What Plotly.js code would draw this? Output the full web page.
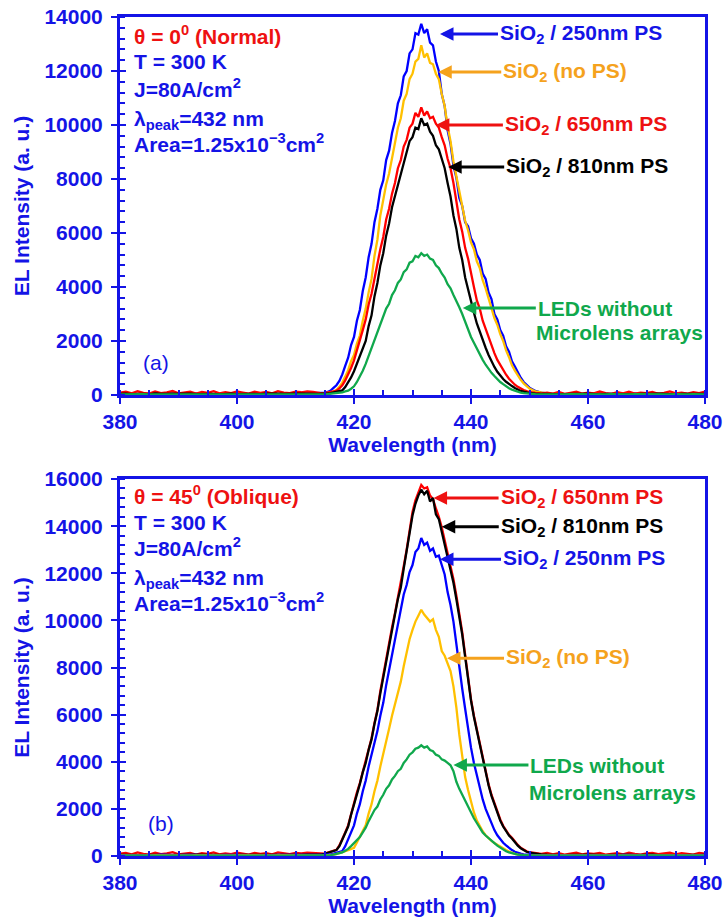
<!DOCTYPE html>
<html>
<head>
<meta charset="utf-8">
<script src="https://cdn.plot.ly/plotly-3.0.1.min.js"></script>
<style>html,body{margin:0;padding:0;background:#fff;}#chart{width:727px;height:917px;}</style>
</head>
<body>
<div id="chart"></div>
<script>
// ---- wavelength grid (nm) ----
const wlBase = [380,381,382,383,384,385,386,387,388,389,390,391,392,393,394,395,396,397,398,399,400,401,402,403,404,405,406,407,408,409,410,411,412,413,414];
const wlPeak = [414.5,415,415.5,416,416.5,417,417.5,418,418.5,419,
419.5,420,420.5,421,421.5,422,422.5,423,423.5,424,
424.5,425,425.5,426,426.5,427,427.5,428,428.5,429,
429.5,430,430.5,431,431.5,432,432.5,433,433.5,434,
434.5,435,435.5,436,436.5,437,437.5,438,438.5,439,
439.5,440,440.5,441,441.5,442,442.5,443,443.5,444,
444.5,445,445.5,446,446.5,447,447.5,448,448.5,449,
449.5,450];
const wlTail = [451,452,453,454,455,456,457,458,459,460,461,462,463,464,465,466,467,468,469,470,471,472,473,474,475,476,477,478,479,480];

// ---- (a) normal, theta = 0 ----
const a250 = [40,60,30,50,70,45,35,55,40,65,50,30,45,60,40,35,55,45,30,50,40,60,35,45,55,40,50,30,45,60,40,50,55,45,60,
70,90,110,160,260,360,520,760,1080,1380,
1850,2150,2750,3150,3850,4350,5100,5600,6400,6900,
7600,7950,8700,9050,9700,10150,10800,11100,11800,12000,
12650,12800,13400,13350,13750,13400,13550,13050,12950,12350,
12000,11150,10700,9800,9300,8500,8050,7300,7000,6400,
6250,5800,5600,5200,5000,4500,4300,3800,3550,3000,
2800,2400,2200,1800,1600,1250,1050,820,640,480,
380,270,
150,90,60,40,55,30,45,60,35,50,40,65,30,45,55,40,35,60,45,30,50,40,55,35,45,60,40,30,50,45];
const aNoPS = [30,40,25,35,45,30,40,35,25,45,30,40,35,30,45,25,40,35,30,45,40,30,35,45,30,40,35,25,40,45,35,30,40,45,40,
45,55,70,95,130,180,300,460,680,920,
1250,1480,1900,2200,2750,3200,3800,4300,5150,5750,
6650,7250,7800,8200,8800,9250,9900,10250,10900,11150,
11700,11900,12350,12450,12950,12500,12650,12300,12250,11900,
11700,11150,10700,9950,9400,8650,8100,7450,7000,6450,
6100,5650,5400,4950,4700,4250,3950,3550,3250,2850,
2600,2250,2000,1650,1400,1100,900,720,560,430,
330,240,
130,80,50,40,30,45,35,25,40,30,50,35,25,40,30,45,35,30,40,25,35,45,30,40,35,25,40,30,35,45];
const a650 = [90,120,60,140,80,50,130,70,100,150,60,90,120,50,110,80,140,60,100,70,130,90,50,120,80,110,60,140,90,70,120,100,130,110,80,
55,70,80,110,130,160,240,360,540,760,
1000,1280,1650,1950,2400,2800,3350,3750,4350,4800,
5400,5850,6500,6900,7450,7850,8400,8700,9200,9450,
9900,10050,10450,10300,10650,10350,10500,10250,10300,10050,
9900,9550,9250,8750,8400,7850,7150,6500,6050,5450,
5050,4450,4000,3500,3200,2750,2450,2100,1800,1550,
1300,1100,920,750,600,480,380,300,230,180,
140,110,
80,60,90,50,110,40,80,120,50,90,60,130,70,40,100,60,120,50,90,70,110,40,80,130,60,90,50,100,70,120];
const a810 = [35,50,30,45,40,25,55,35,40,30,45,35,50,30,40,45,35,25,40,50,30,45,35,40,30,50,35,45,40,30,45,50,40,35,40,
45,40,55,70,90,110,130,170,290,450,
650,880,1150,1400,1700,2000,2550,2950,3650,4150,
4800,5250,5900,6350,6950,7350,7850,8150,8650,8950,
9400,9550,9900,9850,10250,10000,10050,9750,9600,9250,
9100,8750,8400,7850,7350,6650,6150,5450,5000,4350,
3900,3400,3050,2650,2350,1980,1750,1480,1250,1040,
860,700,590,490,400,330,260,200,150,120,
90,70,
50,40,30,45,35,25,40,30,35,45,30,25,40,35,30,45,35,25,40,30,35,45,30,40,25,35,40,30,45,35];
const aNoML = [25,30,20,25,30,20,25,30,25,20,30,25,20,25,30,20,25,30,25,20,25,30,20,25,30,25,20,30,25,20,25,30,20,25,25,
25,20,30,40,50,60,80,100,130,160,
230,320,480,680,900,1150,1450,1680,2050,2300,
2650,2880,3200,3380,3700,3880,4150,4280,4550,4650,
4900,4950,5150,5100,5250,5150,5200,5050,5000,4800,
4700,4500,4350,4100,3950,3700,3500,3250,3000,2700,
2450,2150,1930,1700,1500,1300,1120,950,820,700,
580,480,400,320,250,200,160,120,90,70,
55,40,
30,25,20,30,25,20,30,25,20,25,30,20,25,30,20,25,20,30,25,20,30,25,20,25,30,20,25,30,20,25];

// ---- (b) oblique, theta = 45 ----
const b650 = [100,130,70,150,90,60,140,80,110,160,70,100,130,60,120,90,150,70,110,80,140,100,60,130,90,120,70,150,100,80,130,110,140,120,90,
80,100,140,180,220,260,450,700,1000,1300,
1800,2200,2700,3100,3600,4000,4550,5000,5650,6200,
7000,7700,8400,9000,9700,10300,10950,11500,12300,13000,
13850,14600,15100,15450,15750,15600,15650,15300,15150,14750,
14400,13950,13400,12850,12300,11750,11050,10350,9500,8550,
7600,6650,5950,5350,4700,4150,3550,3050,2600,2250,
1850,1550,1280,1080,900,770,600,470,350,270,
200,160,
110,90,130,70,120,60,100,140,70,110,90,130,60,100,120,70,140,90,60,110,130,80,100,140,70,120,90,60,130,100];
const b810 = [50,40,55,45,35,50,40,55,45,40,50,35,45,55,40,50,45,35,55,40,45,50,35,45,55,40,50,45,40,55,50,45,60,55,50,
70,90,130,170,210,250,420,680,950,1250,
1750,2150,2650,3050,3550,3950,4500,4950,5600,6150,
6900,7600,8300,8900,9650,10250,10900,11400,12200,12900,
13700,14450,14950,15300,15550,15350,15500,15050,15200,14500,
14300,13750,13300,12700,12200,11600,10900,10200,9400,8450,
7500,6600,5900,5300,4650,4100,3500,3000,2550,2200,
1800,1500,1250,1050,870,740,570,440,330,250,
180,140,
90,70,55,45,60,40,50,35,45,55,40,50,35,45,55,40,50,35,45,40,55,35,45,50,40,35,50,45,40,50];
const b250 = [40,35,45,30,50,40,35,60,45,30,40,50,35,45,40,30,50,35,45,40,35,50,40,30,45,40,35,50,45,40,35,45,40,50,45,
45,50,60,80,100,130,160,210,420,700,
1000,1300,1800,2200,2750,3200,3800,4300,4850,5300,
5950,6500,7250,7900,8600,9200,9950,10550,11100,11500,
12050,12350,12900,13050,13500,13200,13300,12950,13050,12700,
12750,12350,11950,11200,10650,9950,8950,8050,7100,6250,
5350,4600,3950,3400,2850,2400,2000,1700,1380,1100,
880,700,560,450,340,250,180,130,100,70,
55,45,
40,35,45,30,40,35,45,30,40,35,30,45,40,35,30,45,40,35,30,40,45,35,30,40,35,45,30,40,35,45];
const bNoPS = [20,15,25,20,15,20,25,20,15,25,20,15,20,25,20,15,25,20,15,20,25,20,15,20,25,15,20,25,20,15,20,25,20,20,20,
20,25,30,40,60,80,110,150,200,250,
300,350,580,800,1050,1300,1800,2200,2750,3200,
3800,4300,4900,5400,5950,6400,6950,7400,8050,8600,
9200,9600,9950,10200,10450,10250,10100,9950,10050,9600,
9300,8700,8500,8200,7850,7200,6300,5150,4200,3350,
2800,2300,1850,1500,1250,1050,880,750,640,550,
470,400,320,250,190,130,90,60,45,35,
30,25,
20,25,15,20,25,20,15,25,20,15,20,25,15,20,25,20,15,20,25,15,20,25,20,15,20,25,20,15,25,20];
const bNoML = [15,20,25,15,20,25,20,15,20,25,15,20,25,20,15,20,25,15,20,25,20,15,20,25,15,20,25,20,15,20,25,20,15,20,20,
20,20,30,40,60,80,110,150,220,300,
420,550,680,800,1000,1200,1480,1700,1950,2100,
2400,2600,2850,3000,3250,3400,3600,3700,3950,4100,
4300,4400,4550,4600,4700,4600,4650,4500,4450,4300,
4250,4100,4050,3950,3850,3600,3150,2850,2600,2300,
2050,1800,1600,1400,1200,1000,870,750,640,550,
440,350,270,200,150,110,80,60,45,35,
30,25,
20,15,20,25,15,20,25,20,15,20,25,15,20,25,20,15,20,25,15,20,20,25,15,20,25,20,15,20,25,20];

// ---- axis ranges ----
const xRange = [380, 480];
const yRangeA = [0, 14000];
const yRangeB = [0, 16000];

const wl = wlBase.concat(wlPeak, wlTail);

const AX = '#1414E6';
const C = {blue:'#0000FF', orange:'#FFC000', red:'#FF0000', black:'#000000', green:'#10A84C'};
const T = {blue:'#1414E6', orange:'#F5A21D', red:'#EE1111', black:'#000000', green:'#10A84C'};
const FONT = 'Liberation Sans, Arial, Helvetica, sans-serif';

function tr(y, color, xa, ya) {
  return {x: wl, y: y, type: 'scatter', mode: 'lines', xaxis: xa, yaxis: ya,
    line: {color: color, width: 2.3}, hoverinfo: 'skip', showlegend: false};
}
const traces = [
  tr(a250, C.blue, 'x', 'y'), tr(aNoPS, C.orange, 'x', 'y'), tr(a650, C.red, 'x', 'y'),
  tr(a810, C.black, 'x', 'y'), tr(aNoML, C.green, 'x', 'y'),
  tr(b650, C.red, 'x2', 'y2'), tr(b810, C.black, 'x2', 'y2'), tr(b250, C.blue, 'x2', 'y2'),
  tr(bNoPS, C.orange, 'x2', 'y2'), tr(bNoML, C.green, 'x2', 'y2'),
  {x: [null], y: [null], xaxis: 'x3', yaxis: 'y3', type: 'scatter', mode: 'lines', showlegend: false, hoverinfo: 'skip'},
  {x: [null], y: [null], xaxis: 'x4', yaxis: 'y4', type: 'scatter', mode: 'lines', showlegend: false, hoverinfo: 'skip'}
];

const tickFont = {family: FONT, size: 21, color: AX, weight: 'bold'};
function xAxis(anchor) {
  return {anchor: anchor, range: xRange, tickmode: 'linear', tick0: 380, dtick: 20, tickformat: 'd',
    ticks: 'outside', ticklen: 6, tickwidth: 2, tickcolor: AX,
    minor: {ticks: 'inside', tickmode: 'linear', dtick: 5, tick0: 380, ticklen: 5, tickwidth: 2, tickcolor: AX, showgrid: false},
    showline: true, linecolor: AX, linewidth: 3, mirror: true,
    showgrid: false, zeroline: false, tickfont: tickFont,
    title: {text: '<b>Wavelength (nm)</b>', font: {family: FONT, size: 21, color: AX}, standoff: 4}};
}
function yAxis(anchor, domain, range) {
  return {anchor: anchor, domain: domain, range: range, tickmode: 'linear', tick0: 0, dtick: 2000, tickformat: 'd',
    ticks: 'outside', ticklen: 6, tickwidth: 2, tickcolor: AX, ticklabelstandoff: 4,
    minor: {ticks: 'inside', tickmode: 'linear', dtick: 400, tick0: 0, ticklen: 5, tickwidth: 2, tickcolor: AX, showgrid: false},
    showline: true, linecolor: AX, linewidth: 3, mirror: true,
    showgrid: false, zeroline: false, tickfont: tickFont,
    title: {text: '<b>EL Intensity (a. u.)</b>', font: {family: FONT, size: 21, color: AX}, standoff: 10}};
}
function overlayX(over, anchor) {
  return {overlaying: over, anchor: anchor, range: xRange, tickmode: 'linear', tick0: 380, dtick: 20, ticks: 'inside', ticklen: 6,
    tickwidth: 2, tickcolor: AX, showticklabels: false, showline: false, showgrid: false, zeroline: false};
}
function overlayY(over, anchor, range) {
  return {overlaying: over, anchor: anchor, side: 'left', range: range, tickmode: 'linear', tick0: 0, dtick: 2000, ticks: 'inside', ticklen: 6,
    tickwidth: 2, tickcolor: AX, showticklabels: false, showline: false, showgrid: false, zeroline: false};
}

const ann = [];
function lbl(xr, yr, x, y, text, color, opts) {
  ann.push(Object.assign({xref: xr, yref: yr, x: x, y: y, text: text, showarrow: false,
    xanchor: 'left', yanchor: 'middle', align: 'left',
    font: {family: FONT, size: 21, color: color}}, opts || {}));
}
function arr(xr, yr, x, y, ax, text, color) {
  ann.push({xref: xr, yref: yr, x: x, y: y, ax: ax, ay: 0, text: text, showarrow: true,
    arrowhead: 2, arrowsize: 0.9, arrowwidth: 3, arrowcolor: color, standoff: 0,
    xanchor: 'left', yanchor: 'middle', align: 'left',
    font: {family: FONT, size: 21, color: color}});
}
// (a)
lbl('x domain', 'y domain', 0.02, 0.952, '<b>θ = 0<sup>0</sup> (Normal)</b>', T.red);
lbl('x domain', 'y domain', 0.02, 0.881, '<b>T = 300 K</b>', T.blue);
lbl('x domain', 'y domain', 0.02, 0.812, '<b>J=80A/cm<sup>2</sup></b>', T.blue);
lbl('x domain', 'y domain', 0.02, 0.728, '<b>λ<sub>peak</sub>=432 nm</b>', T.blue);
lbl('x domain', 'y domain', 0.02, 0.667, '<b>Area=1.25x10<sup>−3</sup>cm<sup>2</sup></b>', T.blue);
lbl('x domain', 'y domain', 0.0615, 0.085, '(a)', T.blue, {xanchor: 'center'});
arr('x', 'y', 434.7, 13370, 58, '<b>SiO<sub>2</sub> / 250nm PS</b>', T.blue);
arr('x', 'y', 434.4, 11960, 63, '<b>SiO<sub>2</sub> (no PS)</b>', T.orange);
arr('x', 'y', 434.0, 10000, 67, '<b>SiO<sub>2</sub> / 650nm PS</b>', T.red);
arr('x', 'y', 436.1, 8440, 56, '<b>SiO<sub>2</sub> / 810nm PS</b>', T.black);
arr('x', 'y', 438.6, 3220, 73, '<b>LEDs without</b>', T.green);
lbl('x', 'y', 450.8, 2330, '<b>Microlens arrays</b>', T.green);
// (b)
lbl('x2 domain', 'y2 domain', 0.02, 0.958, '<b>θ = 45<sup>0</sup> (Oblique)</b>', T.red);
lbl('x2 domain', 'y2 domain', 0.02, 0.886, '<b>T = 300 K</b>', T.blue);
lbl('x2 domain', 'y2 domain', 0.02, 0.820, '<b>J=80A/cm<sup>2</sup></b>', T.blue);
lbl('x2 domain', 'y2 domain', 0.02, 0.736, '<b>λ<sub>peak</sub>=432 nm</b>', T.blue);
lbl('x2 domain', 'y2 domain', 0.02, 0.674, '<b>Area=1.25x10<sup>−3</sup>cm<sup>2</sup></b>', T.blue);
lbl('x2 domain', 'y2 domain', 0.07, 0.0875, '(b)', T.blue, {xanchor: 'center'});
arr('x2', 'y2', 433.6, 15190, 65, '<b>SiO<sub>2</sub> / 650nm PS</b>', T.red);
arr('x2', 'y2', 435.0, 13980, 57, '<b>SiO<sub>2</sub> / 810nm PS</b>', T.black);
arr('x2', 'y2', 434.7, 12600, 61, '<b>SiO<sub>2</sub> / 250nm PS</b>', T.blue);
arr('x2', 'y2', 435.9, 8390, 57, '<b>SiO<sub>2</sub> (no PS)</b>', T.orange);
arr('x2', 'y2', 437.0, 3860, 75, '<b>LEDs without</b>', T.green);
lbl('x2', 'y2', 449.6, 2716, '<b>Microlens arrays</b>', T.green);

const layout = {
  width: 727, height: 917, margin: {l: 120, r: 22, t: 17, b: 61},
  paper_bgcolor: '#ffffff', plot_bgcolor: '#ffffff', showlegend: false,
  font: {family: FONT, color: AX},
  xaxis: xAxis('y'), yaxis: yAxis('x', [0.5495, 1], yRangeA),
  xaxis2: xAxis('y2'), yaxis2: yAxis('x2', [0, 0.4493], yRangeB),
  xaxis3: overlayX('x', 'y3'), yaxis3: overlayY('y', 'x3', yRangeA),
  xaxis4: overlayX('x2', 'y4'), yaxis4: overlayY('y2', 'x4', yRangeB),
  annotations: ann
};

Plotly.newPlot('chart', traces, layout, {staticPlot: true, displayModeBar: false});
</script>
</body>
</html>
